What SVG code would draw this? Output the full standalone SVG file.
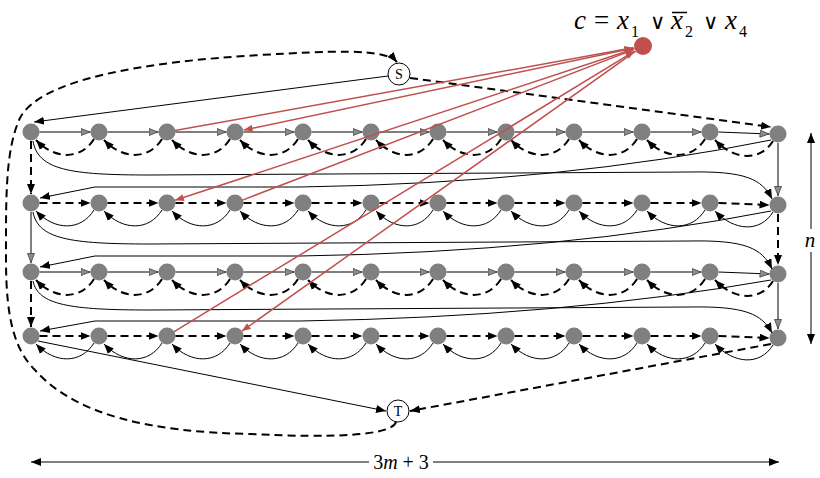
<svg xmlns="http://www.w3.org/2000/svg" width="820" height="478" viewBox="0 0 820 478">
<defs>
<marker id="ab" viewBox="0 0 10 8" refX="10" refY="4" markerWidth="10" markerHeight="8" markerUnits="userSpaceOnUse" orient="auto"><path d="M0,0 L10,4 L0,8 z" fill="#000"/></marker>
<marker id="abs" viewBox="0 0 10 8" refX="10" refY="4" markerWidth="10" markerHeight="8" markerUnits="userSpaceOnUse" orient="auto-start-reverse"><path d="M0,0 L10,4 L0,8 z" fill="#000"/></marker>
<marker id="ag" viewBox="0 0 10 8" refX="10" refY="4" markerWidth="10" markerHeight="8" markerUnits="userSpaceOnUse" orient="auto"><path d="M0.5,0.5 L9.5,4 L0.5,7.5 z" fill="#8c8c8c" stroke="#404040" stroke-width="0.8"/></marker>
<marker id="ar" viewBox="0 0 10 8" refX="10" refY="4" markerWidth="10" markerHeight="7" markerUnits="userSpaceOnUse" orient="auto"><path d="M0,0 L10,4 L0,8 z" fill="#c0504d"/></marker>
</defs>
<style>
.nd{fill:#808080}
.st{fill:#fff;stroke:#000;stroke-width:1}
.s{fill:none;stroke:#000;stroke-width:1}
.d{fill:none;stroke:#000;stroke-width:2;stroke-dasharray:8 5}
.r{fill:none;stroke:#c0504d;stroke-width:1.5}
.ma{marker-end:url(#ab)}
.mg{marker-end:url(#ag)}
.mr{marker-end:url(#ar)}
.it{font-style:italic}
</style>

<!-- nodes row 1 -->
<g id="n1_1"><circle class="nd" cx="31" cy="132" r="8.5"/></g>
<g id="n1_2"><circle class="nd" cx="99" cy="132" r="8.5"/></g>
<g id="n1_3"><circle class="nd" cx="167" cy="132" r="8.5"/></g>
<g id="n1_4"><circle class="nd" cx="235" cy="132" r="8.5"/></g>
<g id="n1_5"><circle class="nd" cx="303" cy="132" r="8.5"/></g>
<g id="n1_6"><circle class="nd" cx="371" cy="132" r="8.5"/></g>
<g id="n1_7"><circle class="nd" cx="438" cy="132" r="8.5"/></g>
<g id="n1_8"><circle class="nd" cx="506" cy="132" r="8.5"/></g>
<g id="n1_9"><circle class="nd" cx="574" cy="132" r="8.5"/></g>
<g id="n1_10"><circle class="nd" cx="642" cy="132" r="8.5"/></g>
<g id="n1_11"><circle class="nd" cx="710" cy="132" r="8.5"/></g>
<g id="n1_12"><circle class="nd" cx="778" cy="134" r="8.5"/></g>
<!-- nodes row 2 -->
<g id="n2_1"><circle class="nd" cx="31" cy="203" r="8.5"/></g>
<g id="n2_2"><circle class="nd" cx="99" cy="203" r="8.5"/></g>
<g id="n2_3"><circle class="nd" cx="167" cy="203" r="8.5"/></g>
<g id="n2_4"><circle class="nd" cx="235" cy="203" r="8.5"/></g>
<g id="n2_5"><circle class="nd" cx="303" cy="203" r="8.5"/></g>
<g id="n2_6"><circle class="nd" cx="371" cy="203" r="8.5"/></g>
<g id="n2_7"><circle class="nd" cx="438" cy="203" r="8.5"/></g>
<g id="n2_8"><circle class="nd" cx="506" cy="203" r="8.5"/></g>
<g id="n2_9"><circle class="nd" cx="574" cy="203" r="8.5"/></g>
<g id="n2_10"><circle class="nd" cx="642" cy="203" r="8.5"/></g>
<g id="n2_11"><circle class="nd" cx="710" cy="203" r="8.5"/></g>
<g id="n2_12"><circle class="nd" cx="778" cy="205" r="8.5"/></g>
<!-- nodes row 3 -->
<g id="n3_1"><circle class="nd" cx="31" cy="272" r="8.5"/></g>
<g id="n3_2"><circle class="nd" cx="99" cy="272" r="8.5"/></g>
<g id="n3_3"><circle class="nd" cx="167" cy="272" r="8.5"/></g>
<g id="n3_4"><circle class="nd" cx="235" cy="272" r="8.5"/></g>
<g id="n3_5"><circle class="nd" cx="303" cy="272" r="8.5"/></g>
<g id="n3_6"><circle class="nd" cx="371" cy="272" r="8.5"/></g>
<g id="n3_7"><circle class="nd" cx="438" cy="272" r="8.5"/></g>
<g id="n3_8"><circle class="nd" cx="506" cy="272" r="8.5"/></g>
<g id="n3_9"><circle class="nd" cx="574" cy="272" r="8.5"/></g>
<g id="n3_10"><circle class="nd" cx="642" cy="272" r="8.5"/></g>
<g id="n3_11"><circle class="nd" cx="710" cy="272" r="8.5"/></g>
<g id="n3_12"><circle class="nd" cx="778" cy="274" r="8.5"/></g>
<!-- nodes row 4 -->
<g id="n4_1"><circle class="nd" cx="31" cy="336" r="8.5"/></g>
<g id="n4_2"><circle class="nd" cx="99" cy="336" r="8.5"/></g>
<g id="n4_3"><circle class="nd" cx="167" cy="336" r="8.5"/></g>
<g id="n4_4"><circle class="nd" cx="235" cy="336" r="8.5"/></g>
<g id="n4_5"><circle class="nd" cx="303" cy="336" r="8.5"/></g>
<g id="n4_6"><circle class="nd" cx="371" cy="336" r="8.5"/></g>
<g id="n4_7"><circle class="nd" cx="438" cy="336" r="8.5"/></g>
<g id="n4_8"><circle class="nd" cx="506" cy="336" r="8.5"/></g>
<g id="n4_9"><circle class="nd" cx="574" cy="336" r="8.5"/></g>
<g id="n4_10"><circle class="nd" cx="642" cy="336" r="8.5"/></g>
<g id="n4_11"><circle class="nd" cx="710" cy="336" r="8.5"/></g>
<g id="n4_12"><circle class="nd" cx="778" cy="338" r="8.5"/></g>

<g id="S"><circle class="st" cx="399" cy="74" r="11"/><text font-family="Liberation Serif, serif" x="399" y="79" font-size="14" text-anchor="middle">S</text></g>
<g id="T"><circle class="st" cx="398" cy="411" r="11"/><text font-family="Liberation Serif, serif" x="398" y="416" font-size="14" text-anchor="middle">T</text></g>
<g id="c"><circle cx="643" cy="46" r="9" fill="#c0504d"/></g>

<g id="connectors">
  <g transform="translate(0,132)">
    <g class="s mg">
      <line x1="39.5" y1="0" x2="90.5" y2="0"/><line x1="107.5" y1="0" x2="158.5" y2="0"/><line x1="175.5" y1="0" x2="226.5" y2="0"/><line x1="243.5" y1="0" x2="294.5" y2="0"/><line x1="311.5" y1="0" x2="362.5" y2="0"/><line x1="379.5" y1="0" x2="429.5" y2="0"/><line x1="446.5" y1="0" x2="497.5" y2="0"/><line x1="514.5" y1="0" x2="565.5" y2="0"/><line x1="582.5" y1="0" x2="633.5" y2="0"/><line x1="650.5" y1="0" x2="701.5" y2="0"/><line x1="718.5" y1="0" x2="769.5" y2="2"/>
    </g>
    <g class="d ma">
      <path d="M94,7 C81,28 55,28 36,8"/><path d="M162,7 C149,28 123,28 104,8"/><path d="M230,7 C217,28 191,28 172,8"/><path d="M298,7 C285,28 259,28 240,8"/><path d="M366,7 C353,28 327,28 308,8"/><path d="M433,7 C420,28 395,28 376,8"/><path d="M501,7 C488,28 462,28 443,8"/><path d="M569,7 C556,28 530,28 511,8"/><path d="M637,7 C624,28 598,28 579,8"/><path d="M705,7 C692,28 666,28 647,8"/><path d="M773,9 C760,30 734,28 715,8"/>
    </g>
  </g>
  <g transform="translate(0,203)">
    <g class="d ma">
      <line x1="39.5" y1="0" x2="90.5" y2="0"/><line x1="107.5" y1="0" x2="158.5" y2="0"/><line x1="175.5" y1="0" x2="226.5" y2="0"/><line x1="243.5" y1="0" x2="294.5" y2="0"/><line x1="311.5" y1="0" x2="362.5" y2="0"/><line x1="379.5" y1="0" x2="429.5" y2="0"/><line x1="446.5" y1="0" x2="497.5" y2="0"/><line x1="514.5" y1="0" x2="565.5" y2="0"/><line x1="582.5" y1="0" x2="633.5" y2="0"/><line x1="650.5" y1="0" x2="701.5" y2="0"/><line x1="718.5" y1="0" x2="769.5" y2="2"/>
    </g>
    <g class="s ma">
      <path d="M94,7 C81,28 55,28 36,8"/><path d="M162,7 C149,28 123,28 104,8"/><path d="M230,7 C217,28 191,28 172,8"/><path d="M298,7 C285,28 259,28 240,8"/><path d="M366,7 C353,28 327,28 308,8"/><path d="M433,7 C420,28 395,28 376,8"/><path d="M501,7 C488,28 462,28 443,8"/><path d="M569,7 C556,28 530,28 511,8"/><path d="M637,7 C624,28 598,28 579,8"/><path d="M705,7 C692,28 666,28 647,8"/><path d="M773,9 C760,30 734,28 715,8"/>
    </g>
  </g>
  <g transform="translate(0,272)">
    <g class="s mg">
      <line x1="39.5" y1="0" x2="90.5" y2="0"/><line x1="107.5" y1="0" x2="158.5" y2="0"/><line x1="175.5" y1="0" x2="226.5" y2="0"/><line x1="243.5" y1="0" x2="294.5" y2="0"/><line x1="311.5" y1="0" x2="362.5" y2="0"/><line x1="379.5" y1="0" x2="429.5" y2="0"/><line x1="446.5" y1="0" x2="497.5" y2="0"/><line x1="514.5" y1="0" x2="565.5" y2="0"/><line x1="582.5" y1="0" x2="633.5" y2="0"/><line x1="650.5" y1="0" x2="701.5" y2="0"/><line x1="718.5" y1="0" x2="769.5" y2="2"/>
    </g>
    <g class="d ma">
      <path d="M94,7 C81,28 55,28 36,8"/><path d="M162,7 C149,28 123,28 104,8"/><path d="M230,7 C217,28 191,28 172,8"/><path d="M298,7 C285,28 259,28 240,8"/><path d="M366,7 C353,28 327,28 308,8"/><path d="M433,7 C420,28 395,28 376,8"/><path d="M501,7 C488,28 462,28 443,8"/><path d="M569,7 C556,28 530,28 511,8"/><path d="M637,7 C624,28 598,28 579,8"/><path d="M705,7 C692,28 666,28 647,8"/><path d="M773,9 C760,30 734,28 715,8"/>
    </g>
  </g>
  <g transform="translate(0,336)">
    <g class="d ma">
      <line x1="39.5" y1="0" x2="90.5" y2="0"/><line x1="107.5" y1="0" x2="158.5" y2="0"/><line x1="175.5" y1="0" x2="226.5" y2="0"/><line x1="243.5" y1="0" x2="294.5" y2="0"/><line x1="311.5" y1="0" x2="362.5" y2="0"/><line x1="379.5" y1="0" x2="429.5" y2="0"/><line x1="446.5" y1="0" x2="497.5" y2="0"/><line x1="514.5" y1="0" x2="565.5" y2="0"/><line x1="582.5" y1="0" x2="633.5" y2="0"/><line x1="650.5" y1="0" x2="701.5" y2="0"/><line x1="718.5" y1="0" x2="769.5" y2="2"/>
    </g>
    <g class="s ma">
      <path d="M94,7 C81,28 55,28 36,8"/><path d="M162,7 C149,28 123,28 104,8"/><path d="M230,7 C217,28 191,28 172,8"/><path d="M298,7 C285,28 259,28 240,8"/><path d="M366,7 C353,28 327,28 308,8"/><path d="M433,7 C420,28 395,28 376,8"/><path d="M501,7 C488,28 462,28 443,8"/><path d="M569,7 C556,28 530,28 511,8"/><path d="M637,7 C624,28 598,28 579,8"/><path d="M705,7 C692,28 666,28 647,8"/><path d="M773,9 C760,30 734,28 715,8"/>
    </g>
  </g>

  <line class="d ma" x1="31" y1="141" x2="31" y2="194"/>
  <line class="s mg" x1="31" y1="212" x2="31" y2="263"/>
  <line class="d ma" x1="31" y1="281" x2="31" y2="327"/>
  <line class="s mg" x1="778" y1="143" x2="778" y2="196"/>
  <line class="d ma" x1="778" y1="214" x2="778" y2="265"/>
  <line class="s mg" x1="778" y1="283" x2="778" y2="329"/>

  <path class="s ma" d="M33,141 C38,170 70,175 150,175 L690,172 C745,171 762,179 772,199"/>
  <path class="s ma" d="M771,140 Q560,183 300,187 L95,187 L40,198"/>
  <path class="s ma" d="M33,212 C38,239 70,244 150,244 L690,241 C745,240 762,248 772,269"/>
  <path class="s ma" d="M771,211 Q560,252 300,256 L95,256 L40,267"/>
  <path class="s ma" d="M33,281 C38,305 70,310 150,310 L690,307 C745,306 762,314 772,333"/>
  <path class="s ma" d="M771,280 Q560,317 300,321 L95,321 L40,331"/>

  <line class="s ma" x1="388" y1="76" x2="34" y2="122"/>
  <line class="d ma" x1="410" y1="78" x2="771" y2="127"/>
  <line class="s ma" x1="38" y1="341" x2="386" y2="411"/>
  <line class="d ma" x1="771" y1="344" x2="410" y2="411"/>
  <path class="d ma" d="M396,422 C392,436 330,438 250,434 C150,432 75,415 35,370 C15,350 6,320 6,260 C6,200 5,150 20,118 C40,80 140,62 260,55 C330,51 385,48 397,62"/>

  <g class="r mr">
    <line x1="175" y1="130.6" x2="633" y2="47.8"/>
    <line x1="634.2" y1="47.9" x2="243.8" y2="130.1"/>
    <line x1="634.4" y1="48.8" x2="175.1" y2="200.3"/>
    <line x1="242.5" y1="200.1" x2="633.7" y2="49.6"/>
    <line x1="173.8" y1="331.8" x2="634.5" y2="51.2"/>
    <line x1="635.7" y1="51.2" x2="241.9" y2="331.1"/>
  </g>
</g>

<g id="dims" font-family="Liberation Serif, serif">
  <line class="s" x1="811" y1="133" x2="811" y2="229" marker-start="url(#abs)"/>
  <line class="s" x1="811" y1="252" x2="811" y2="344" marker-end="url(#ab)"/>
  <text class="it" x="810" y="247" font-size="21" text-anchor="middle">n</text>
  <line class="s" x1="31" y1="462" x2="369" y2="462" marker-start="url(#abs)"/>
  <line class="s" x1="433" y1="462" x2="779" y2="462" marker-end="url(#ab)"/>
  <text x="401" y="469" font-size="20" text-anchor="middle">3<tspan class="it">m</tspan> + 3</text>
</g>

<g id="clause-label" font-family="Liberation Serif, serif" fill="#000">
  <text x="574" y="29" class="it" font-size="27">c</text>
  <text x="594" y="29" font-size="27">=</text>
  <text x="617" y="29" class="it" font-size="27">x</text>
  <text x="631" y="37" font-size="16">1</text>
  <text x="650" y="29" font-family="DejaVu Sans, sans-serif" font-size="21">∨</text>
  <text x="671" y="29" class="it" font-size="27">x</text>
  <line x1="672" y1="12.5" x2="687" y2="12.5" stroke="#000" stroke-width="1.5"/>
  <text x="685" y="37" font-size="16">2</text>
  <text x="703" y="29" font-family="DejaVu Sans, sans-serif" font-size="21">∨</text>
  <text x="725" y="29" class="it" font-size="27">x</text>
  <text x="739" y="37" font-size="16">4</text>
</g>
</svg>
